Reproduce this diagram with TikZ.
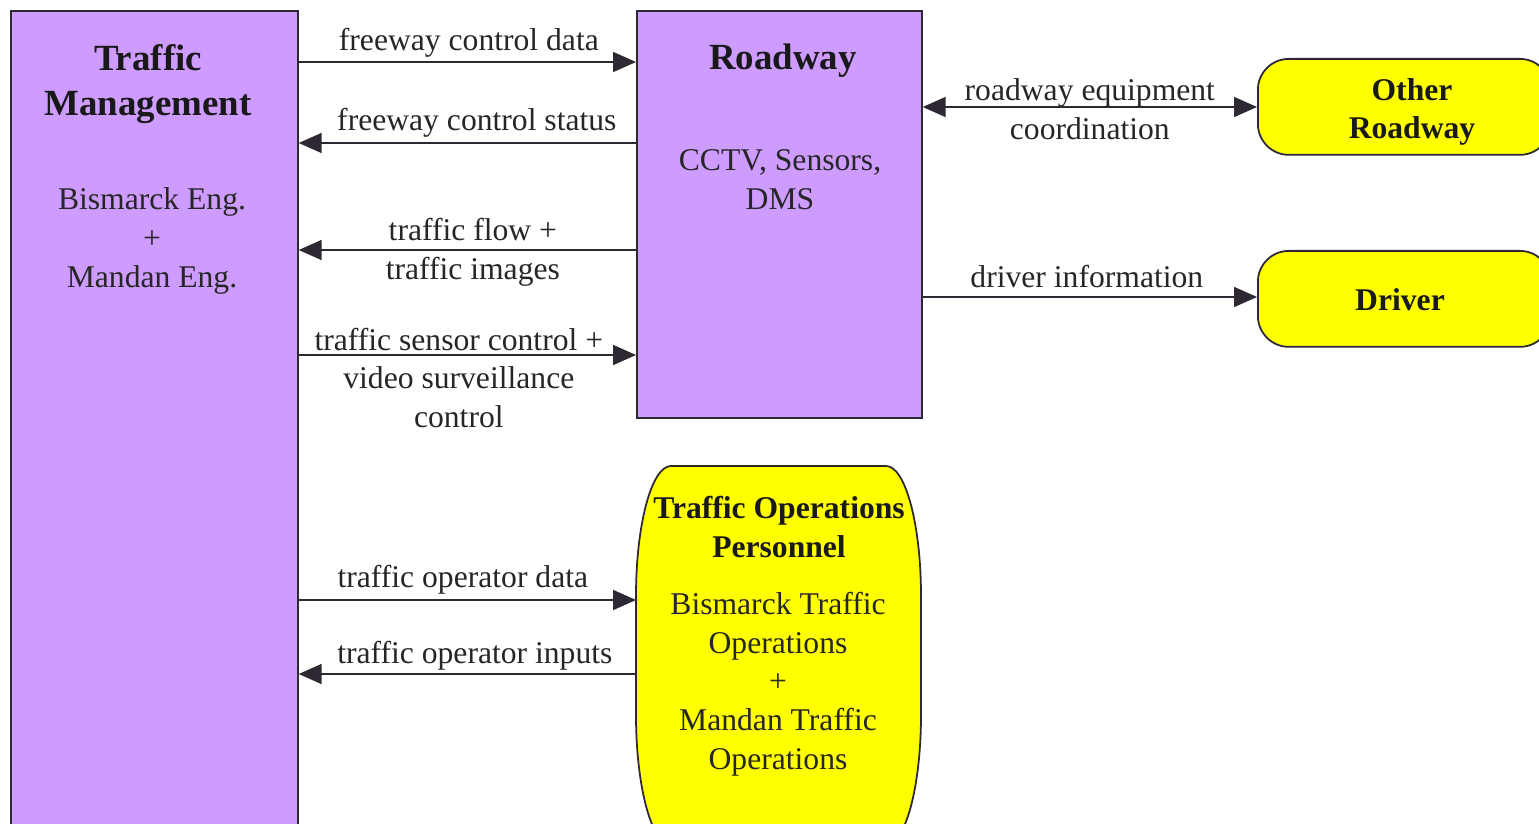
\documentclass[tikz,border=0pt]{standalone}
\usepackage{fontspec}
\setmainfont{Liberation Serif}
\usetikzlibrary{arrows.meta}

\definecolor{mgmtpurple}{RGB}{206,155,255}
\definecolor{termyellow}{RGB}{255,255,0}
\definecolor{edgegray}{RGB}{45,40,50}

\tikzset{
	sysbox/.style={draw=edgegray, line width=1pt, fill=mgmtpurple, anchor=north west, inner sep=0pt},
	termbox/.style={draw=edgegray, line width=1pt, fill=termyellow, rounded corners=0.62cm, anchor=north west, inner sep=0pt},
	flow/.style={draw=edgegray, line width=1pt, -{Triangle[length=0.46cm,width=0.4cm]}},
	twoway/.style={draw=edgegray, line width=1pt, {Triangle[length=0.46cm,width=0.4cm]}-{Triangle[length=0.46cm,width=0.4cm]}},
	lbl/.style={font=\fontsize{18}{22}\selectfont, align=center, text=black!85, inner sep=0pt},
	ttl/.style={font=\fontsize{21}{25.6}\selectfont\bfseries, align=center, text=black!90, inner sep=0pt},
	subttl/.style={font=\fontsize{18}{22}\selectfont\bfseries, align=center, text=black!90, inner sep=0pt}
}

\begin{document}
\begin{tikzpicture}[x=0.02cm, y=-0.02cm]
	%%%%% START %%%%%
	\def\lx{636}
	\def\rx{921}
	\def\ty{466}
	\def\by{845}
	\def\ca{35}
	\def\cb{130}
	
	\useasboundingbox (0,0) rectangle (1539,824);
	
	% boxes
	\node[sysbox, minimum width=5.74cm, minimum height=16.8cm] (tm) at (10,10) {};
	\node[sysbox, minimum width=5.7cm, minimum height=8.14cm] (road) at (636,10) {};
	\node[termbox, minimum width=5.86cm, minimum height=1.92cm] (other) at (1257,58) {};
	\node[termbox, minimum width=5.86cm, minimum height=1.92cm] (driver) at (1257,250) {};
	
	% operations personnel: tall box with stretched corners
	\draw[draw=edgegray, line width=1pt, fill=termyellow]
		(\lx,\ty+\cb) .. controls (\lx,\ty+0.448*\cb) and (\lx+0.448*\ca,\ty) .. (\lx+\ca,\ty)
		-- (\rx-\ca,\ty) .. controls (\rx-0.448*\ca,\ty) and (\rx,\ty+0.448*\cb) .. (\rx,\ty+\cb)
		-- (\rx,\by-\cb) .. controls (\rx,\by-0.448*\cb) and (\rx-0.448*\ca,\by) .. (\rx-\ca,\by)
		-- (\lx+\ca,\by) .. controls (\lx+0.448*\ca,\by) and (\lx,\by-0.448*\cb) .. (\lx,\by-\cb) -- cycle;
	\node[anchor=north west, minimum width=5.7cm, minimum height=7.58cm, inner sep=0pt] (ops) at (\lx,\ty) {};
	
	% box texts
	\node[ttl] (tmtitle) at (148,84) {Traffic\\Management};
	\node[lbl] (tmbody) at (152,241) {Bismarck Eng.\\+\\Mandan Eng.};
	\node[ttl] (roadtitle) at (783,61) {Roadway};
	\node[lbl] (roadbody) at (780,180) {CCTV, Sensors,\\DMS};
	\node[subttl] (othertitle) at (1412,112) {Other\\Roadway};
	\node[subttl] (drivertitle) at (1400,300) {Driver};
	\node[subttl] (opstitle) at (779,527) {Traffic Operations\\Personnel};
	\node[lbl] (opsbody) at (778,684) {Bismarck Traffic\\Operations\\+\\Mandan Traffic\\Operations};
	
	% flows
	\draw[flow] (tm.east |- 0,62) -- (road.west |- 0,62)
		node[lbl, midway, yshift=0.38cm, xshift=0.03cm] (fcdata) {freeway control data};
	\draw[flow] (road.west |- 0,143) -- (tm.east |- 0,143)
		node[lbl, midway, yshift=0.4cm, xshift=0.19cm] (fcstatus) {freeway control status};
	\draw[flow] (road.west |- 0,250) -- (tm.east |- 0,250)
		node[lbl, midway, yshift=-0.04cm, xshift=0.11cm] (tflow) {traffic flow +\\traffic images};
	\draw[flow] (tm.east |- 0,355) -- (road.west |- 0,355)
		node[lbl, midway, yshift=-0.46cm, xshift=-0.17cm] (tsensor) {traffic sensor control +\\video surveillance\\control};
	\draw[twoway] (road.east |- 0,107) -- (other.west |- 0,107)
		node[lbl, midway, yshift=-0.04cm] (equip) {roadway equipment\\coordination};
	\draw[flow] (road.east |- 0,297) -- (driver.west |- 0,297)
		node[lbl, midway, yshift=0.4cm, xshift=-0.06cm] (drvinfo) {driver information};
	\draw[flow] (tm.east |- 0,600) -- (ops.west |- 0,600)
		node[lbl, midway, yshift=0.41cm, xshift=-0.09cm] (opdata) {traffic operator data};
	\draw[flow] (ops.west |- 0,674) -- (tm.east |- 0,674)
		node[lbl, midway, yshift=0.37cm, xshift=0.15cm] (opinputs) {traffic operator inputs};
	%%%%% END %%%%%
\end{tikzpicture}
\end{document}
